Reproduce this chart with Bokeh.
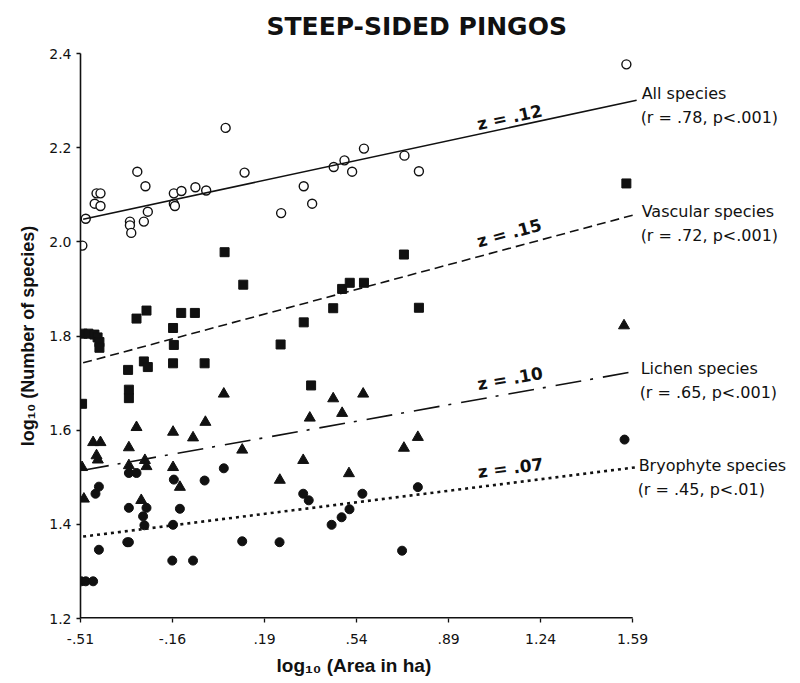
import math
from bokeh.plotting import figure
from bokeh.models import Label, FixedTicker, Range1d, Title
from bokeh.embed import file_html
from bokeh.resources import INLINE

# ---- data (log10 area, log10 species) ----
all_x = [-0.503, -0.49, -0.456, -0.449, -0.434, -0.434, -0.322, -0.322, -0.317, -0.294,
         -0.269, -0.263, -0.254, -0.155, -0.155, -0.151, -0.126, -0.073, -0.032, 0.042,
         0.114, 0.253, 0.339, 0.371, 0.453, 0.494, 0.523, 0.568, 0.722, 0.777, 1.566]
all_y = [1.992, 2.049, 2.081, 2.103, 2.103, 2.076, 2.043, 2.035, 2.019, 2.149,
         2.043, 2.118, 2.064, 2.103, 2.081, 2.076, 2.108, 2.116, 2.109, 2.242,
         2.147, 2.061, 2.118, 2.081, 2.159, 2.173, 2.149, 2.198, 2.183, 2.150, 2.377]

vasc_x = [-0.504, -0.502, -0.48, -0.457, -0.445, -0.438, -0.438, -0.329, -0.326, -0.326,
          -0.297, -0.259, -0.269, -0.254, -0.158, -0.155, -0.158, -0.127, -0.075, -0.038,
          0.038, 0.109, 0.251, 0.339, 0.367, 0.451, 0.485, 0.514, 0.568, 0.720, 0.777, 1.566]
vasc_y = [1.656, 1.805, 1.805, 1.803, 1.797, 1.787, 1.775, 1.728, 1.686, 1.668,
          1.837, 1.854, 1.746, 1.734, 1.817, 1.781, 1.742, 1.849, 1.849, 1.742,
          1.978, 1.909, 1.782, 1.829, 1.695, 1.859, 1.900, 1.913, 1.913, 1.973, 1.860, 2.124]

lich_x = [-0.504, -0.497, -0.462, -0.434, -0.449, -0.444, -0.297, -0.326, -0.326, -0.265,
          -0.259, -0.279, -0.158, -0.082, -0.158, -0.132, -0.035, 0.035, 0.105, 0.248,
          0.337, 0.362, 0.451, 0.485, 0.511, 0.565, 0.720, 0.773, 1.557]
lich_y = [1.521, 1.454, 1.574, 1.574, 1.546, 1.537, 1.606, 1.563, 1.525, 1.536,
          1.523, 1.451, 1.596, 1.584, 1.521, 1.479, 1.617, 1.677, 1.558, 1.494,
          1.536, 1.626, 1.667, 1.636, 1.508, 1.677, 1.562, 1.585, 1.822]

bryo_x = [-0.507, -0.49, -0.462, -0.440, -0.453, -0.440, -0.326, -0.332, -0.326, -0.326,
          -0.297, -0.259, -0.272, -0.267, -0.155, -0.132, -0.158, -0.161, -0.082, -0.038,
          0.035, 0.105, 0.247, 0.337, 0.358, 0.445, 0.483, 0.513, 0.562, 0.713, 0.773, 1.559]
bryo_y = [1.279, 1.279, 1.279, 1.346, 1.465, 1.480, 1.435, 1.362, 1.362, 1.509,
          1.509, 1.435, 1.417, 1.398, 1.495, 1.433, 1.399, 1.323, 1.323, 1.493,
          1.519, 1.364, 1.362, 1.465, 1.451, 1.399, 1.415, 1.432, 1.465, 1.344, 1.479, 1.580]

# regression lines: slope z, intercept at log10(area)=0
z_vals = [0.12, 0.15, 0.10, 0.07]
intercepts = [2.108, 1.818, 1.565, 1.409]
line_x = [-0.50, 1.605]
z_label_x = 1.13
group_names = ["All species", "Vascular species", "Lichen species", "Bryophyte species"]
r_texts = ["(r = .78, p<.001)", "(r = .72, p<.001)", "(r = .65, p<.001)", "(r = .45, p<.01)"]
z_texts = ["z = .12", "z = .15", "z = .10", "z = .07"]

x_ticks = [-0.51, -0.16, 0.19, 0.54, 0.89, 1.24, 1.59]
x_tick_labels = ["-.51", "-.16", ".19", ".54", ".89", "1.24", "1.59"]
y_ticks = [1.2, 1.4, 1.6, 1.8, 2.0, 2.2, 2.4]
y_tick_labels = ["1.2", "1.4", "1.6", "1.8", "2.0", "2.2", "2.4"]

# ---- figure ----
X0, X1 = -0.51, 2.213   # frame extends right to hold the series labels
Y0, Y1 = 1.2, 2.4
FW, FH = 716, 565
FONT = "DejaVu Sans"
INK = "#111111"

p = figure(frame_width=FW, frame_height=FH,
           x_range=Range1d(X0, X1), y_range=Range1d(Y0, Y1),
           output_backend="svg", toolbar_location=None,
           min_border_left=80, min_border_right=0, min_border_top=53, min_border_bottom=62,
           background_fill_color="white", border_fill_color="white", outline_line_color=None)

p.title.text = "STEEP-SIDED PINGOS"
p.title.align = "left"
p.title.offset = 186
p.title.text_font = FONT
p.title.text_font_size = "25px"
p.title.text_font_style = "bold"
p.title.text_color = INK
p.title.vertical_align = "top"
p.title.standoff = 21

p.xgrid.visible = False
p.ygrid.visible = False

for ax, ticks, labels in ((p.xaxis[0], x_ticks, x_tick_labels), (p.yaxis[0], y_ticks, y_tick_labels)):
    ax.ticker = FixedTicker(ticks=ticks)
    ax.major_label_overrides = dict(zip(ticks, labels))
    ax.minor_tick_line_color = None
    ax.major_tick_in = 0
    ax.major_tick_out = 4
    ax.axis_line_width = 1.6
    ax.axis_line_color = INK
    ax.major_tick_line_color = INK
    ax.major_tick_line_width = 1.3
    ax.major_label_text_font = FONT
    ax.major_label_text_font_size = "14px"
    ax.major_label_text_color = INK
    ax.axis_label_text_font = "Liberation Sans"
    ax.axis_label_text_font_style = "bold"
    ax.axis_label_text_color = INK

# bottom axis line only spans the tick range
p.xaxis.axis_line_color = None
p.segment(x0=[x_ticks[0]], y0=[Y0], x1=[x_ticks[-1]], y1=[Y0], line_width=3.2, line_color=INK)
p.xaxis.major_label_standoff = 11

p.add_layout(Title(text="log\u2081\u2080 (Area in ha)", align="left", offset=196,
                   text_font="Liberation Sans", text_font_size="19px", text_font_style="bold",
                   text_color=INK, vertical_align="top", standoff=16), "below")

p.yaxis.axis_label = "log\u2081\u2080 (Number of species)"
p.yaxis.axis_label_text_font_size = "18px"
p.yaxis.major_label_standoff = 5
p.yaxis.axis_label_standoff = 8

# ---- markers ----
p.scatter(all_x, all_y, marker="circle", size=9, fill_color="white", line_color=INK, line_width=1.4)
p.scatter(vasc_x, vasc_y, marker="square", size=9, fill_color=INK, line_color=INK)
p.scatter(lich_x, lich_y, marker="triangle", size=11, fill_color=INK, line_color=INK)
p.scatter(bryo_x, bryo_y, marker="circle", size=9, fill_color=INK, line_color=INK)

# ---- regression lines and labels ----
styles = [("solid", 1.6), ("9 5", 1.6), ("26 9 3 10", 1.6), ("3 4", 2.6)]
z_offsets = [0, 5, 5, 5]
name_offsets = [7, 3, 3, 2]
name_x_offsets = [5, 5, 4, 2]
px_per_x = FW / (X1 - X0)
px_per_y = FH / (Y1 - Y0)
for z, a, (dash, lw), name, rtxt, ztxt, zo, no, nx in zip(z_vals, intercepts, styles, group_names,
                                                         r_texts, z_texts, z_offsets, name_offsets,
                                                         name_x_offsets):
    ys = [a + z * x for x in line_x]
    p.line(line_x, ys, line_dash=dash, line_width=lw, line_color=INK, line_cap="butt")
    ang = math.atan(z * px_per_y / px_per_x)
    p.add_layout(Label(x=z_label_x, y=a + z * z_label_x, y_offset=zo, angle=ang, text=ztxt,
                       text_align="center", text_baseline="bottom", text_font=FONT,
                       text_font_size="17px", text_font_style="bold", text_color=INK))
    p.add_layout(Label(x=line_x[1], y=ys[1], x_offset=nx, y_offset=no, text=name,
                       text_align="left", text_baseline="middle", text_font=FONT,
                       text_font_size="16px", text_color=INK))
    p.add_layout(Label(x=line_x[1], y=ys[1], x_offset=nx - 1, y_offset=no - 24, text=rtxt,
                       text_align="left", text_baseline="middle", text_font=FONT,
                       text_font_size="16px", text_color=INK))

open("out.html", "w").write(file_html(p, INLINE))
